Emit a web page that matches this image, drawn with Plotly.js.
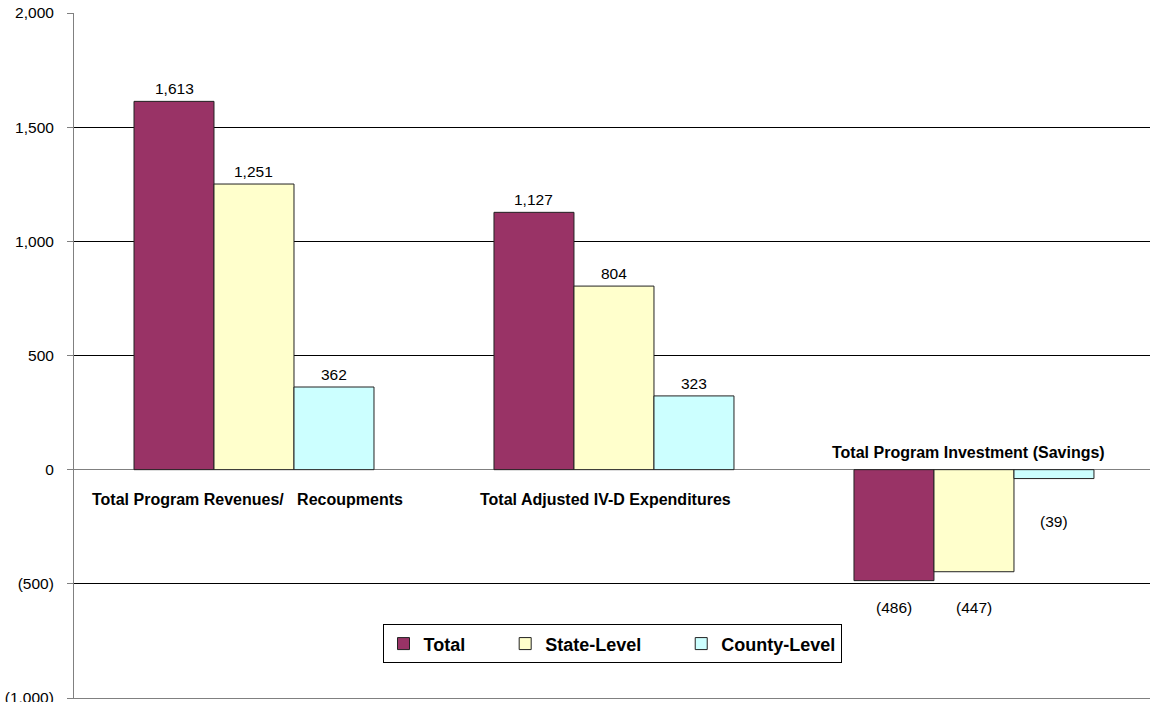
<!DOCTYPE html>
<html>
<head>
<meta charset="utf-8">
<script src="https://cdn.plot.ly/plotly-3.0.1.min.js"></script>
<style>html,body{margin:0;padding:0;background:#fff;}#chart{width:1150px;height:702px;}</style>
</head>
<body>
<div id="chart"></div>
<script>
var categories = ["Total Program Revenues/   Recoupments", "Total Adjusted IV-D Expenditures", "Total Program Investment (Savings)"];
var totalValues = [1613, 1127, -486];
var stateValues = [1251, 804, -447];
var countyValues = [362, 323, -39];
var seriesNames = ["Total", "State-Level", "County-Level"];
var tickValues = [-1000, -500, 0, 500, 1000, 1500, 2000];

var colors = ["#993366", "#FFFFCC", "#CCFFFF"];
var allSeries = [totalValues, stateValues, countyValues];
var FONT = "Liberation Sans, Arial, sans-serif";

function fmt(v) {
  var s = Math.abs(v).toLocaleString("en-US");
  return v < 0 ? "(" + s + ")" : s;
}

// legend spacing padding (visual only)
var legendPad = ["\u00a0\u00a0\u00a0\u00a0\u00a0\u00a0\u00a0", "\u00a0\u00a0\u00a0\u00a0\u00a0\u00a0\u00a0", ""];

var idx = categories.map(function (c, i) { return i; });
var traces = allSeries.map(function (vals, s) {
  return {
    type: "bar",
    name: seriesNames[s] + legendPad[s],
    x: idx,
    y: vals,
    marker: { color: colors[s], line: { color: "#222222", width: 1 } },
    hoverinfo: "none"
  };
});

var barOffsets = [-2 / 9, 0, 2 / 9];
var negShift = [-27, -36, -43];
var annotations = [];
allSeries.forEach(function (vals, s) {
  vals.forEach(function (v, i) {
    if (v >= 0) {
      annotations.push({ x: i + barOffsets[s], y: v, xref: "x", yref: "y", text: fmt(v), showarrow: false,
        yanchor: "bottom", yshift: 2, font: { family: FONT, size: 15.5, color: "#000" } });
    } else {
      annotations.push({ x: i + barOffsets[s], y: v, xref: "x", yref: "y", text: fmt(v), showarrow: false,
        yanchor: "middle", yshift: negShift[s], font: { family: FONT, size: 15.5, color: "#000" } });
    }
  });
});
var catShift = [-30, -30, 17];
var catXShift = [-6.5, -8, -5];
categories.forEach(function (c, i) {
  annotations.push({ x: i, y: 0, xref: "x", yref: "y", text: "<b>" + c + "</b>", showarrow: false,
    yanchor: "middle", yshift: catShift[i], xshift: catXShift[i],
    font: { family: FONT, size: 16, color: "#000" } });
});

var layout = {
  width: 1150,
  height: 702,
  margin: { l: 74, r: 0, t: 13, b: 4 },
  paper_bgcolor: "#fff",
  plot_bgcolor: "#fff",
  barmode: "group",
  bargap: 1 / 3,
  bargroupgap: 0,
  showlegend: true,
  legend: {
    orientation: "h",
    x: 0.5, xanchor: "center",
    y: 0.079, yanchor: "middle",
    bgcolor: "#fff",
    bordercolor: "#000",
    borderwidth: 1,
    itemwidth: 30,
    font: { family: FONT, size: 18, color: "#000", weight: "bold" },
    itemclick: false
  },
  xaxis: {
    type: "linear",
    range: [-0.5, 2.489],
    showticklabels: false,
    ticks: "",
    showgrid: false,
    zeroline: false,
    showline: true,
    linecolor: "#808080",
    linewidth: 1
  },
  yaxis: {
    range: [-1000, 2000],
    tickvals: tickValues,
    ticktext: tickValues.map(fmt),
    tickfont: { family: FONT, size: 15.5, color: "#000" },
    ticks: "outside",
    ticklen: 6,
    tickcolor: "#808080",
    ticklabelstandoff: 10,
    ticklabeloverflow: "allow",
    showline: true,
    linecolor: "#808080",
    linewidth: 1,
    showgrid: true,
    gridcolor: "#000",
    gridwidth: 1,
    zeroline: true,
    zerolinecolor: "#808080",
    zerolinewidth: 1
  },
  annotations: annotations
};

Plotly.newPlot("chart", traces, layout, { staticPlot: true, displayModeBar: false });
</script>
</body>
</html>
